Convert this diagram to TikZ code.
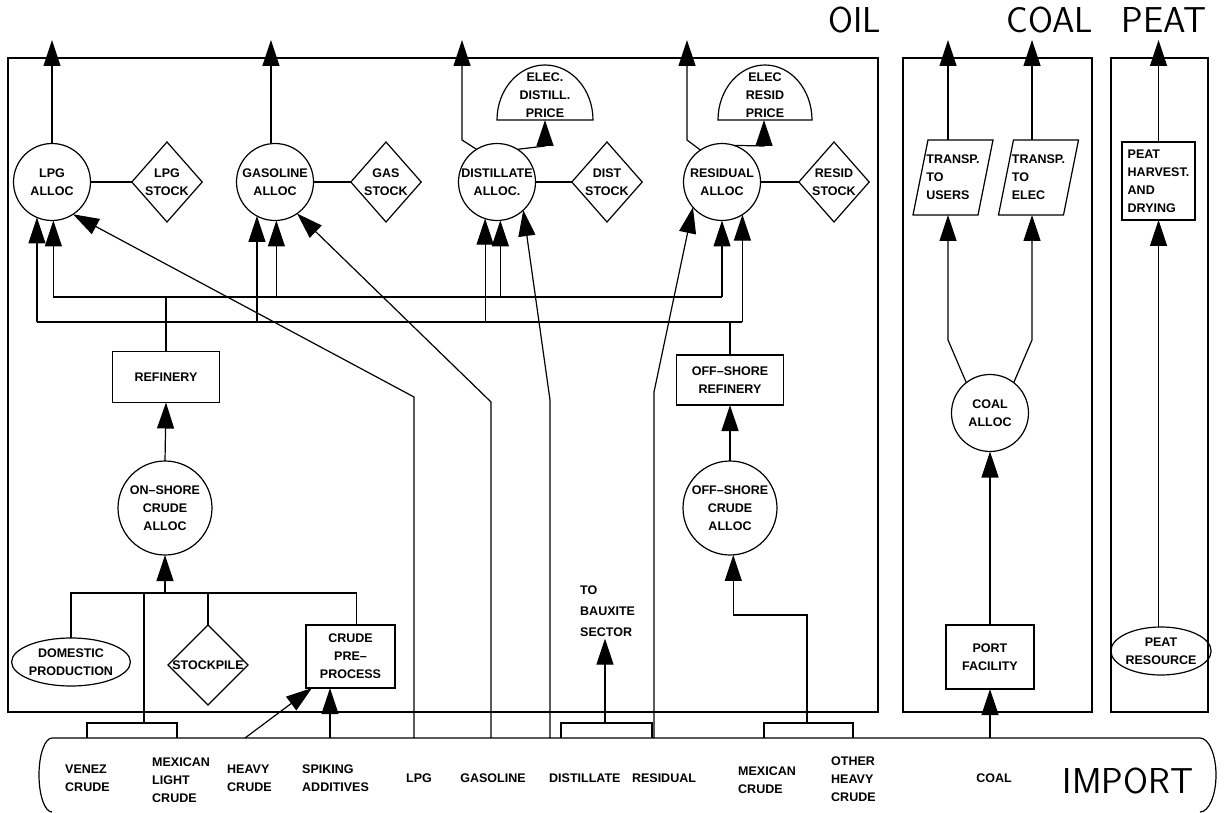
\documentclass[tikz,border=0pt]{standalone}
\usepackage{fontspec}
\setmainfont{Liberation Sans}
\usetikzlibrary{arrows.meta,shapes.geometric}

\newcommand\nodefont{\fontsize{12.5}{18}\selectfont\bfseries}
\newcommand\bigtitle{\sffamily\fontsize{36}{36}\selectfont}

\tikzset{
  wire/.style={line width=1.2pt},
  flow/.style={wire, -{Triangle[length=26pt,width=17pt]}},
  box/.style={draw, line width=1.2pt, inner sep=0pt, outer sep=0pt, font=\nodefont, align=center},
  alloc/.style={box, circle, minimum size=77pt},
  crude/.style={box, circle, minimum size=94pt},
  stock/.style={box, diamond, minimum width=70pt, minimum height=80pt},
  proc/.style={box, rectangle},
  source/.style={box, ellipse},
  txt/.style={font=\nodefont, inner sep=0pt, align=left},
  heading/.style={font=\bigtitle, inner sep=0pt},
}

\begin{document}
\begin{tikzpicture}[x=1pt,y=-1pt]
\useasboundingbox (0,0) rectangle (1224,813);
\coordinate (topy) at (0,40);
\coordinate (bus1) at (0,297);
\coordinate (bus2) at (0,322);
\coordinate (crudebus) at (0,593);

% section frames and headings
\draw[wire] (8,58) rectangle (878,712);
\draw[wire] (903,58) rectangle (1092,712);
\draw[wire] (1111,58) rectangle (1208,712);
\node[heading] (hoil) at (855,20) {OIL};
\node[heading] (hcoal) at (1050,20) {COAL};
\node[heading] (hpeat) at (1164,20) {PEAT};

% import band
\draw[wire] (52,812) arc[start angle=90,end angle=270,x radius=13,y radius=37]
  -- (1200,738) arc[start angle=270,end angle=450,x radius=16,y radius=37];
\node[heading] (himp) at (1128,781) {IMPORT};
\node[txt,anchor=west] (venez) at (65,778) {VENEZ\\CRUDE};
\node[txt,anchor=west] (mexl) at (152,780) {MEXICAN\\LIGHT\\CRUDE};
\node[txt,anchor=west] (heavy) at (227,778) {HEAVY\\CRUDE};
\node[txt,anchor=west] (spike) at (302,778) {SPIKING\\ADDITIVES};
\node[txt] (ilpg) at (419,778) {LPG};
\node[txt] (igas) at (493,778) {GASOLINE};
\node[txt,anchor=west] (idist) at (549,778) {DISTILLATE};
\node[txt] (ires) at (664,778) {RESIDUAL};
\node[txt,anchor=west] (mexc) at (738,780) {MEXICAN\\CRUDE};
\node[txt,anchor=west] (other) at (831,779) {OTHER\\HEAVY\\CRUDE};
\node[txt] (icoal) at (994,778) {COAL};

% feed points on the import band
\coordinate (i-heavy) at (245,738);
\coordinate (i-spike) at (330,738);
\coordinate (i-lpg) at (414,738);
\coordinate (i-gas) at (491,738);
\coordinate (i-dist) at (550,738);
\coordinate (i-res) at (654,738);
\coordinate (i-coal) at (990,738);
\coordinate (br-left) at (144,723);
\coordinate (br-mid) at (605,723);
\coordinate (br-right) at (807,723);
\draw[wire] (87,738) -- (87,723) -- (177,723) -- (177,738);
\draw[wire] (561,738) -- (561,723) -- (652,723) -- (652,738);
\draw[wire] (764,738) -- (764,723) -- (853,723) -- (853,738);

% product allocation row
\node[alloc] (lpg) at (52,182) {LPG\\ALLOC};
\node[stock] (lpgs) at (167,182) {LPG\\STOCK};
\node[alloc] (gas) at (275,182) {GASOLINE\\ALLOC};
\node[stock] (gass) at (386,182) {GAS\\STOCK};
\node[alloc] (dist) at (497,182) {DISTILLATE\\ALLOC.};
\node[stock] (dists) at (607,182) {DIST\\STOCK};
\node[alloc] (res) at (722,182) {RESIDUAL\\ALLOC};
\node[stock] (ress) at (834,182) {RESID\\STOCK};
\draw[wire] (lpg) -- (lpgs);
\draw[wire] (gas) -- (gass);
\draw[wire] (dist) -- (dists);
\draw[wire] (res) -- (ress);

% electricity price domes
\coordinate (edp) at (545,120);
\coordinate (erp) at (764,120);
\draw[wire] (497,120) arc[start angle=180,end angle=360,x radius=48,y radius=55] -- cycle;
\draw[wire] (718,120) arc[start angle=180,end angle=360,x radius=47,y radius=55] -- cycle;
\node[txt,align=center] (edpt) at (545,95) {ELEC.\\DISTILL.\\PRICE};
\node[txt,align=center] (erpt) at (765,95) {ELEC\\RESID\\PRICE};

% outputs leaving the oil sector
\draw[flow] (lpg.north) -- (lpg.north |- topy);
\draw[flow] (gas.96) -- (gas.96 |- topy);
\draw[flow] (dist.122) -- (462,140) -- (462,40);
\draw[flow] (dist.58) -- (545,146) -- (edp);
\draw[flow] (res.124) -- (687,140) -- (687,40);
\draw[flow] (res.72) -- (764,146) -- (erp);

% refinery product buses
\draw[wire] (lpg.272 |- bus1) -- (res.270 |- bus1);
\draw[wire] (lpg.247 |- bus2) -- (res.302 |- bus2);
\draw[flow] (lpg.247 |- bus2) -- (lpg.247);
\draw[flow] (lpg.272 |- bus1) -- (lpg.272);
\draw[flow] (gas.242 |- bus2) -- (gas.242);
\draw[flow] (gas.272 |- bus1) -- (gas.272);
\draw[flow] (dist.252 |- bus2) -- (dist.252);
\draw[flow] (dist.275 |- bus1) -- (dist.275);
\draw[flow] (res.270 |- bus1) -- (res.270);
\draw[flow] (res.302 |- bus2) -- (res.302);

% imported products straight to allocation
\draw[flow] (i-lpg) -- (414,397) -- (lpg.303);
\draw[flow] (i-gas) -- (491,402) -- (gas.305);
\draw[flow] (i-dist) -- (550,400) -- (dist.313);
\draw[flow] (i-res) -- (654,392) -- (res.221);

% on-shore refining
\node[proc,minimum width=107,minimum height=51] (ref) at (166,377) {REFINERY};
\draw[wire] (ref.north) -- (ref.north |- bus1);
\node[crude] (onc) at (165,508) {ON--SHORE\\CRUDE\\ALLOC};
\draw[flow] (onc.north) -- (ref.south);
\draw[flow] (onc.south |- crudebus) -- (onc.south);
\node[source,minimum width=102,minimum height=48] (dom) at (71,662) {DOMESTIC\\PRODUCTION};
\node[stock,minimum width=80,minimum height=76] (stp) at (208,665) {STOCKPILE};
\node[proc,minimum width=89,minimum height=63] (cpp) at (350.5,656.5) {CRUDE\\PRE--\\PROCESS};
\draw[wire] (dom.north) -- (dom.north |- crudebus) -- ([xshift=6pt]cpp.north |- crudebus) -- ([xshift=6pt]cpp.north);
\draw[wire] (stp.north) -- (stp.north |- crudebus);
\draw[wire] (br-left) -- (br-left |- crudebus);
\draw[flow] (i-heavy) -- ([xshift=6pt]cpp.south west);
\draw[flow] (i-spike) -- (cpp.south -| i-spike);

% bauxite sector take-off
\node[txt,anchor=west,font=\fontsize{12.5}{21}\selectfont\bfseries,inner sep=2pt] (baux) at (578,611) {TO\\BAUXITE\\SECTOR};
\draw[flow] (br-mid) -- (br-mid |- baux.south);

% off-shore refining
\node[proc,minimum width=107,minimum height=50] (offr) at (730,380) {OFF--SHORE\\REFINERY};
\draw[wire] (offr.north) -- (offr.north |- bus2);
\node[crude] (offc) at (730,508) {OFF--SHORE\\CRUDE\\ALLOC};
\draw[flow] (offc.north) -- (offr.south);
\draw[flow] (br-right) -- (807,615) -- (offc.274 |- 0,615) -- (offc.274);

% coal sector
\node[box,draw=none,minimum width=65,minimum height=75,align=left] (tu) at (953,177.5) {TRANSP.\\TO\\USERS};
\draw[wire] ([xshift=-7.5pt]tu.south west) -- ([xshift=7.5pt]tu.north west) -- ([xshift=7.5pt]tu.north east) -- ([xshift=-7.5pt]tu.south east) -- cycle;
\node[box,draw=none,minimum width=65,minimum height=75,align=left] (te) at (1038.5,177.5) {TRANSP.\\TO\\ELEC};
\draw[wire] ([xshift=-7.5pt]te.south west) -- ([xshift=7.5pt]te.north west) -- ([xshift=7.5pt]te.north east) -- ([xshift=-7.5pt]te.south east) -- cycle;
\node[alloc] (ca) at (990,413) {COAL\\ALLOC};
\node[proc,minimum width=88,minimum height=64] (port) at (990,657) {PORT\\FACILITY};
\coordinate (cu) at (948,340);
\coordinate (ce) at (1032,340);
\draw[flow] (i-coal) -- (port.south);
\draw[flow] (port.north) -- (ca.south);
\draw[flow] (ca.128) -- (cu) -- (cu |- tu.south);
\draw[flow] (ca.52) -- (ce) -- (ce |- te.south);
\draw[flow] (cu |- tu.north) -- (cu |- topy);
\draw[flow] (ce |- te.north) -- (ce |- topy);

% peat sector
\node[proc,minimum width=73,minimum height=78,align=left] (ph) at (1158.5,181) {PEAT\\HARVEST.\\AND\\DRYING};
\node[source,minimum width=94,minimum height=48] (pr) at (1161,651) {PEAT\\RESOURCE};
\draw[flow] (pr.north -| ph.south) -- (ph.south);
\draw[flow] (ph.north) -- (ph.north |- topy);
\end{tikzpicture}
\end{document}
